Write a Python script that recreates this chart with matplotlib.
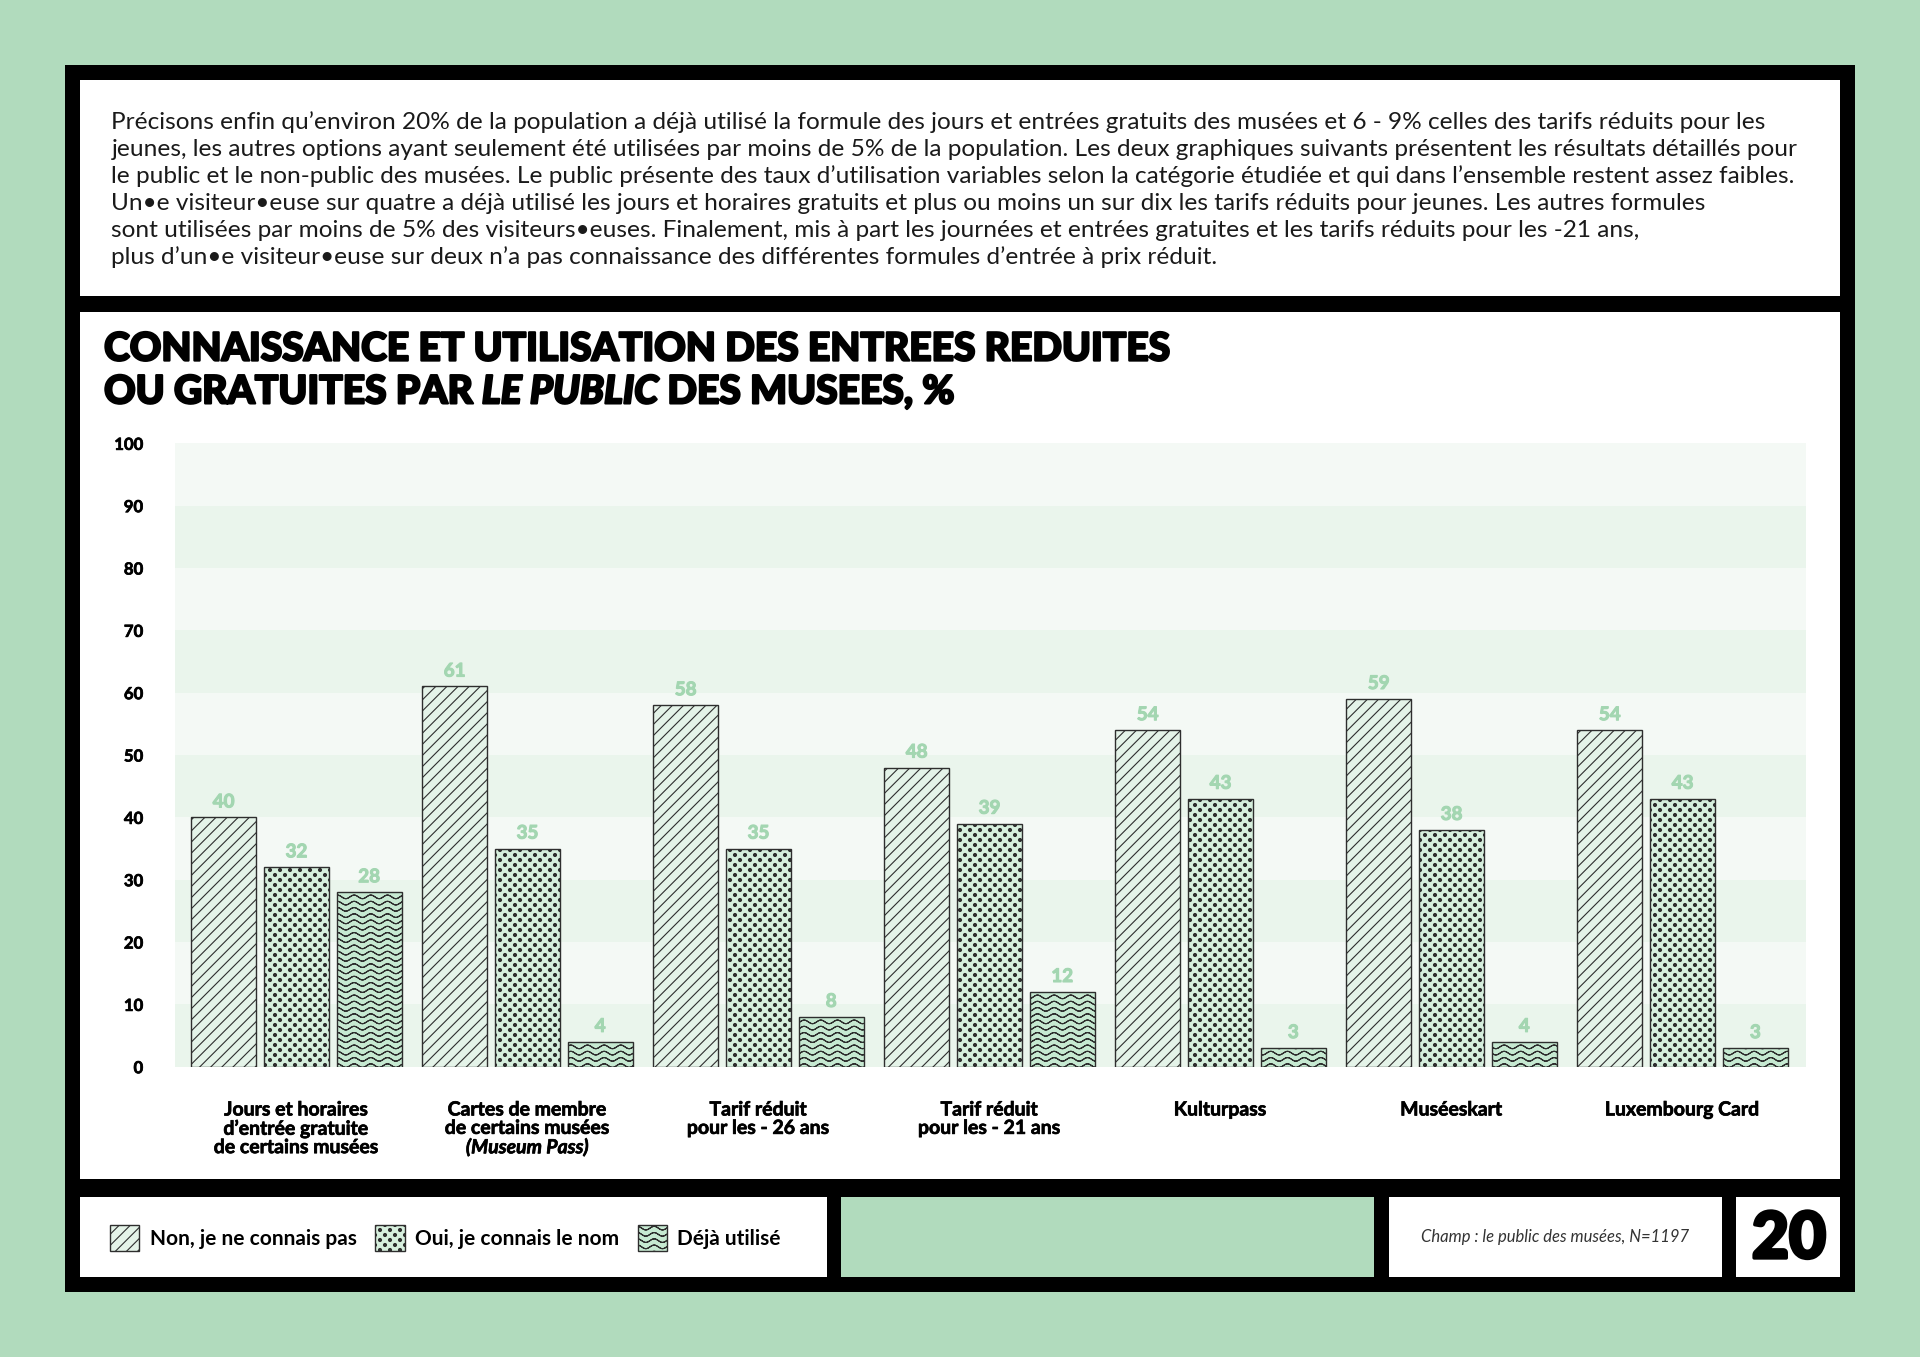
import numpy as np
import matplotlib
matplotlib.use("Agg")
import matplotlib.pyplot as plt
import matplotlib.hatch as mhatch
import matplotlib.patheffects as pe
from matplotlib import font_manager as fm
from matplotlib.path import Path
from matplotlib.patches import Rectangle

# data
categories = [
    "Jours et horaires\nd’entrée gratuite\nde certains musées",
    "Cartes de membre\nde certains musées",
    "Tarif réduit\npour les - 26 ans",
    "Tarif réduit\npour les - 21 ans",
    "Kulturpass",
    "Muséeskart",
    "Luxembourg Card",
]
extra_label = "(Museum Pass)"
non_connais = [40, 61, 58, 48, 54, 59, 54]
oui_nom = [32, 35, 35, 39, 43, 38, 43]
deja_utilise = [28, 4, 8, 12, 3, 4, 3]
series_labels = ["Non, je ne connais pas", "Oui, je connais le nom", "Déjà utilisé"]
y_ticks = list(range(0, 101, 10))

body_lines = [
    "Précisons enfin qu’environ 20% de la population a déjà utilisé la formule des jours et entrées gratuits des musées et 6 - 9% celles des tarifs réduits pour les",
    "jeunes, les autres options ayant seulement été utilisées par moins de 5% de la population. Les deux graphiques suivants présentent les résultats détaillés pour",
    "le public et le non-public des musées. Le public présente des taux d’utilisation variables selon la catégorie étudiée et qui dans l’ensemble restent assez faibles.",
    "Un•e visiteur•euse sur quatre a déjà utilisé les jours et horaires gratuits et plus ou moins un sur dix les tarifs réduits pour jeunes. Les autres formules",
    "sont utilisées par moins de 5% des visiteurs•euses. Finalement, mis à part les journées et entrées gratuites et les tarifs réduits pour les -21 ans,",
    "plus d’un•e visiteur•euse sur deux n’a pas connaissance des différentes formules d’entrée à prix réduit.",
]


# custom hatches: staggered dots for '.', waves for '*'
class DotHatch(mhatch.HatchPatternBase):
    def __init__(self, hatch, density):
        self.num_rows = 10 * hatch.count('.')
        circ = Path.unit_circle()
        self.cv = circ.vertices
        self.cc = circ.codes
        self.centers = []
        if self.num_rows:
            n = self.num_rows
            for r in range(n + 1):
                if r % 2 == 0:
                    xs = np.arange(0, n + 1, 2) / n
                else:
                    xs = np.arange(1, n, 2) / n
                for xx in xs:
                    self.centers.append((xx, r / n))
        self.num_vertices = len(self.centers) * len(self.cv)

    def set_vertices_and_codes(self, vertices, codes):
        k = len(self.cv)
        for i, (cx, cy) in enumerate(self.centers):
            vertices[i * k:(i + 1) * k] = self.cv * 0.015 + [cx, cy]
            codes[i * k:(i + 1) * k] = self.cc


class WaveHatch(mhatch.HatchPatternBase):
    def __init__(self, hatch, density):
        self.num_lines = 8 * hatch.count('*')
        self.npts = 97
        self.num_vertices = self.num_lines * self.npts * 2

    def set_vertices_and_codes(self, vertices, codes):
        xs = np.linspace(0, 1, self.npts)
        step = 1.0 / self.num_lines
        m = self.npts * 2
        for i in range(self.num_lines):
            ys = (i + 0.5) * step + 0.018 * np.sin(2 * np.pi * 6 * xs)
            pts = np.column_stack([xs, ys])
            vertices[i * m:(i + 1) * m] = np.vstack([pts, pts[::-1]])
            codes[i * m:(i + 1) * m] = Path.LINETO
            codes[i * m] = Path.MOVETO


mhatch._hatch_types[mhatch._hatch_types.index(mhatch.SmallFilledCircles)] = DotHatch
mhatch._hatch_types[mhatch._hatch_types.index(mhatch.Stars)] = WaveHatch

# pick a family that has a black/heavy cut for the title, if any
heavy = 'Lato'
for name in ['Lato', 'Roboto', 'Inter', 'Open Sans', 'Noto Sans']:
    ok = False
    for f in fm.fontManager.ttflist:
        if f.name == name and str(f.weight) in ('800', '900', 'black', 'heavy', 'extra bold', 'ultrabold'):
            if f.style == 'normal':
                ok = True
    if ok:
        heavy = name
        break

plt.rcParams['font.family'] = ['Lato', 'DejaVu Sans']
plt.rcParams['hatch.linewidth'] = 0.8

W, H = 1568.0, 1108.0


def fx(x):
    return x / W


def fy(y):
    return 1 - y / H


green = '#b1dbbd'
label_green = '#a3d6b1'
fig = plt.figure(figsize=(19.2, 13.57), dpi=100)
fig.patch.set_facecolor(green)


def box(x0, y0, x1, y1, color, z=-5):
    fig.add_artist(Rectangle((fx(x0), fy(y1)), fx(x1) - fx(x0), fy(y0) - fy(y1),
                             transform=fig.transFigure, facecolor=color,
                             edgecolor='none', zorder=z))


box(53, 53, 1515, 1055, 'black', -6)
box(65, 65, 1503, 242, 'white')
box(65, 255, 1503, 963, 'white')
box(65, 977, 675, 1043, 'white')
box(687, 977, 1122, 1043, green)
box(1134, 977, 1406, 1043, 'white')
box(1418, 977, 1503, 1043, 'white')

# body text
body = []
for i, line in enumerate(body_lines):
    body.append(fig.text(fx(91), fy(100 + 22 * i), line, fontsize=15, va='center',
                         ha='left', color='#1a1a1a'))

# title (stroke makes it look heavier)
tfam = [heavy, 'DejaVu Sans']
thick = [pe.withStroke(linewidth=1.6, foreground='black')]
t1 = fig.text(fx(85), fy(285), "CONNAISSANCE ET UTILISATION DES ENTREES REDUITES",
              fontsize=28, fontweight='black', family=tfam, va='center', ha='left',
              path_effects=thick)
t2a = fig.text(fx(85), fy(320), "OU GRATUITES PAR ", fontsize=28, fontweight='black',
               family=tfam, va='center', ha='left', path_effects=thick)
t2b = fig.text(fx(400), fy(320), "LE PUBLIC", fontsize=28, fontweight='black',
               family=tfam, style='italic', va='center', ha='left', path_effects=thick)
t2c = fig.text(fx(550), fy(320), " DES MUSEES, %", fontsize=28, fontweight='black',
               family=tfam, va='center', ha='left', path_effects=thick)

# chart
ax = fig.add_axes([fx(143), fy(871), fx(1475) - fx(143), fy(362) - fy(871)])
ax.set_facecolor('none')
for i in range(len(y_ticks) - 1):
    ax.axhspan(y_ticks[i], y_ticks[i + 1], color='#eaf5ec' if i % 2 == 0 else '#f4f9f5',
               lw=0, zorder=0)

x = np.arange(len(categories))
bw = 0.281
off = 0.315
series = [non_connais, oui_nom, deja_utilise]
fills = ['#e4f3e8', '#d6efdd', '#c6e9d1']
hatches = ['///', '..', '**']
handles = []
for k, vals in enumerate(series):
    b = ax.bar(x + (k - 1) * off, vals, bw, facecolor=fills[k], edgecolor='#2e2e2e',
               linewidth=1.0, hatch=hatches[k], zorder=2, label=series_labels[k])
    handles.append(b)
    for xi, v in zip(x + (k - 1) * off, vals):
        ax.annotate(str(v), (xi, v), xytext=(0, 5), textcoords='offset points',
                    ha='center', va='bottom', color=label_green, fontweight='bold',
                    fontsize=13.5,
                    path_effects=[pe.withStroke(linewidth=0.8, foreground=label_green)])

ax.set_xlim(-0.525, 6.535)
ax.set_ylim(0, 100)
ax.set_yticks(y_ticks)
ax.set_yticklabels([str(v) for v in y_ticks], fontweight='bold', fontsize=12)
ax.set_xticks(x)
ax.set_xticklabels(categories, fontweight='bold', fontsize=14, linespacing=1.1)
ax.tick_params(axis='both', length=0)
ax.tick_params(axis='y', pad=23)
ax.tick_params(axis='x', pad=25)
for s in ax.spines.values():
    s.set_visible(False)
for t in ax.get_yticklabels() + ax.get_xticklabels():
    t.set_path_effects([pe.withStroke(linewidth=0.5, foreground='black')])

# legend
fig.legend(handles=handles, labels=series_labels, loc='center left',
           bbox_to_anchor=(fx(90), fy(1011)), ncol=3, frameon=False,
           prop={'weight': 'bold', 'size': 15}, handlelength=1.4, handleheight=1.55,
           handletextpad=0.5, columnspacing=0.9, borderaxespad=0, borderpad=0)

fig.text(fx(1270), fy(1010), "Champ : le public des musées, N=1197", style='italic',
         fontsize=12, ha='center', va='center', color='#333333')
fig.text(fx(1461), fy(1012), "20", fontsize=46, fontweight='black', family=tfam,
         ha='center', va='center',
         path_effects=[pe.withStroke(linewidth=2.5, foreground='black')])

# fit text widths to the reference
fig.canvas.draw()
r = fig.canvas.get_renderer()
FW = fig.bbox.width


def fit(t, target):
    bb = t.get_window_extent(r)
    t.set_fontsize(t.get_fontsize() * target * 1.2245 / bb.width)


fit(body[2], 1371)
for t in body:
    t.set_fontsize(body[2].get_fontsize())
fit(t1, 872)
for t in (t2a, t2b, t2c):
    t.set_fontsize(t1.get_fontsize())
fig.canvas.draw()
bb = t2a.get_window_extent(r)
t2b.set_x(bb.x1 / FW)
fig.canvas.draw()
bb = t2b.get_window_extent(r)
t2c.set_x(bb.x1 / FW)

lab = ax.get_xticklabels()[1]
bb = lab.get_window_extent(r)
fs = lab.get_fontsize()
fig.text((bb.x0 + bb.x1) / 2 / FW, (bb.y0 - 0.1 * fs) / fig.bbox.height, extra_label,
         fontsize=fs, fontweight='bold', style='italic', ha='center', va='top',
         path_effects=[pe.withStroke(linewidth=0.5, foreground='black')])

fig.savefig("out.png", dpi=100, facecolor=fig.get_facecolor())
